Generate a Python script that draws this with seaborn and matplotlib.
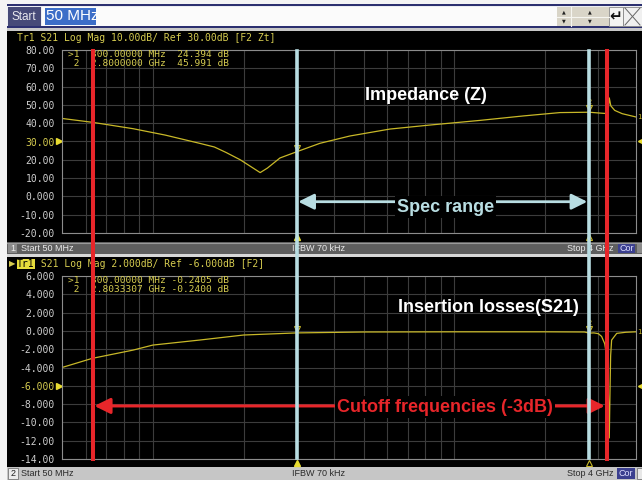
import matplotlib
matplotlib.use('Agg')
import numpy as np
import pandas as pd
import matplotlib.pyplot as plt
import seaborn as sns
from matplotlib.patches import Rectangle
from matplotlib.lines import Line2D
from matplotlib import transforms as mtrans
from matplotlib import font_manager as fm

# ---------------- data ----------------
z_freq_mhz = [50, 63, 86, 110, 143, 160, 175, 195, 215, 227, 240, 264, 300, 358, 450, 611,
              830, 1209, 1700, 2238, 2800, 3000, 3180, 3230, 3262, 3300, 3400, 3600, 4000]
z_db = [42.6, 40.5, 37.0, 33.5, 29.0, 27.0, 24.0, 20.0, 15.5, 13.0, 15.5, 21.0, 24.4, 29.0, 33.0, 36.8,
        39.0, 41.5, 44.0, 45.8, 46.0, 45.6, 45.3, 46.0, 53.8, 49.5, 47.0, 45.2, 43.4]

s21_freq_mhz = [50, 63, 86, 100, 143, 200, 300, 500, 1000, 2000, 2700, 2800, 2900, 3000,
                3076, 3150, 3198, 3240, 3262, 3280, 3296, 3321, 3453, 3700, 4000]
s21_db = [-4.0, -3.0, -2.1, -1.55, -1.0, -0.45, -0.22, -0.12, -0.1, -0.1, -0.12, -0.24, -0.22, -0.3,
          -0.6, -1.4, -2.8, -7.0, -11.7, -6.5, -2.7, -1.0, -0.27, -0.15, -0.1]

spec_range_mhz = [300, 2800]
cutoff_mhz = [63.4, 3200]
grid_freq_mhz = [60, 70, 80, 90, 100, 200, 300, 400, 500, 600, 700, 800, 900, 1000, 2000, 3000]

z_ticks = [80, 70, 60, 50, 40, 30, 20, 10, 0, -10, -20]
z_tick_labels = ["80.00", "70.00", "60.00", "50.00", "40.00", "30.00", "20.00", "10.00", "0.000", "-10.00", "-20.00"]
s21_ticks = [6, 4, 2, 0, -2, -4, -6, -8, -10, -12, -14]
s21_tick_labels = ["6.000", "4.000", "2.000", "0.000", "-2.000", "-4.000", "-6.000", "-8.000", "-10.00", "-12.00", "-14.00"]

marker_freq_labels = ["300.00000 MHz", "2.8000000 GHz"]
s21_marker_freq_labels = ["300.00000 MHz", "2.8033307 GHz"]
z_marker_db = [24.394, 45.991]
s21_marker_db = [-0.2405, -0.2400]
marker_freq_mhz = [300, 2800]

# ---------------- style ----------------
W, H = 642, 480
def have(name):
    try:
        fm.findfont(fm.FontProperties(family=name), fallback_to_default=False)
        return True
    except Exception:
        return False
NARROW = 'Liberation Sans Narrow' if have('Liberation Sans Narrow') else 'Liberation Sans'
isn = NARROW.endswith('Narrow')
MONO = 'DejaVu Sans Mono'
SANS = 'Liberation Sans'

YEL = '#d6cc50'
TRACE = '#c8b828'
RED = '#e8262a'
BLUE = '#b8dde2'
GRID = '#3c3c3c'

fig = plt.figure(figsize=(W / 100, H / 100), dpi=100)
fig.patch.set_facecolor('#f4f4f4')

def R(x0, y0, x1, y1, fc, ec='none', lw=0, z=-5):
    fig.add_artist(Rectangle((x0 / W, 1 - y1 / H), (x1 - x0) / W, (y1 - y0) / H,
                             transform=fig.transFigure, facecolor=fc, edgecolor=ec,
                             linewidth=lw, zorder=z))

def T(x, y, s, z=1, **kw):
    kw.setdefault('va', 'center')
    fig.text(x / W, 1 - y / H, s, zorder=z, **kw)

def L(xs, ys, color, lw=0.8, z=1):
    fig.add_artist(Line2D([x / W for x in xs], [1 - y / H for y in ys], color=color,
                          lw=lw, transform=fig.transFigure, zorder=z))

# ---- title bar ----
R(7, 4, 642, 28, '#eceef2')
R(7, 4, 642, 6, '#2c3070')
R(7, 26, 642, 28, '#2c3070')
R(7, 28, 642, 31, '#c8c8c8')
R(8, 7, 41, 26, '#464a78')
T(12, 16.5, 'Start', color='#e8e8ee', fontsize=8.5, family=SANS)
R(42, 7, 557, 26, '#fbfbfb')
R(45, 8, 96, 25, '#3c6ec8')
T(46, 16.5, '50 MHz', color='white', fontsize=12.5 if isn else 11, family=NARROW)
# spin buttons
R(557, 7, 609, 26, '#d9d5c8')
L([557, 609], [16.5, 16.5], '#f5f5f0', 0.8)
L([571, 571], [7, 26], '#f5f5f0', 0.8)
for xc in (564, 590):
    T(xc, 12, '▲', fontsize=3.5, ha='center', color='#222222', family='DejaVu Sans')
    T(xc, 21, '▼', fontsize=3.5, ha='center', color='#222222', family='DejaVu Sans')
R(609, 7, 623, 26, '#f4f4f2', ec='#888888', lw=0.6)
T(616, 17, '↵', fontsize=11, ha='center', color='#111111', family='DejaVu Sans', weight='bold')
R(623, 7, 642, 26, '#f0f0f0', ec='#888888', lw=0.6)
L([625, 640], [8, 25], '#666666', 0.7)
L([625, 640], [25, 8], '#666666', 0.7)

# ---- channel panels ----
R(7, 31, 642, 242, 'black')
R(7, 242, 642, 254, '#5e5e5e')
L([7, 642], [242.5, 242.5], '#9a9a9a', 0.8, z=-4)
R(7, 254, 642, 257, '#d8d8d8')
R(7, 257, 642, 467, 'black')
R(7, 467, 642, 480, '#c6c6c6')

# status bar 1
R(8, 243, 17, 253.5, '#8a8a8a')
T(10, 248.5, '1', color='#f0f0f0', fontsize=6.5, family=SANS)
T(21, 248.5, 'Start 50 MHz', color='#eaeaea', fontsize=6.5, family=SANS)
T(292, 248.5, 'IFBW 70 kHz', color='#eaeaea', fontsize=6.5, family=SANS)
T(567, 248.5, 'Stop 4 GHz', color='#eaeaea', fontsize=6.5, family=SANS)
R(618, 243, 635, 253.5, '#3b3f8f')
T(626.5, 248.5, 'Cor', color='#e0e0ff', fontsize=6.5, family=SANS, ha='center')
R(637, 243, 642, 253.5, '#8a8a8a')
# status bar 2
R(8, 468, 18, 479, '#ececec', ec='#777777', lw=0.6)
T(10.5, 473.5, '2', color='#202020', fontsize=6.5, family=SANS)
T(21, 473.5, 'Start 50 MHz', color='#2a2a2a', fontsize=6.5, family=SANS)
T(292, 473.5, 'IFBW 70 kHz', color='#2a2a2a', fontsize=6.5, family=SANS)
T(567, 473.5, 'Stop 4 GHz', color='#2a2a2a', fontsize=6.5, family=SANS)
R(617, 468, 635, 479, '#3b3f8f')
T(626, 473.5, 'Cor', color='#e0e0ff', fontsize=6.5, family=SANS, ha='center')
R(637, 468, 642, 479, '#e8e8e8', ec='#777777', lw=0.6)

# headers
T(17, 38, 'Tr1 S21 Log Mag 10.00dB/ Ref 30.00dB [F2 Zt]', color=YEL, fontsize=7, family=MONO)
T(9, 264, '▶', color=YEL, fontsize=6, family='DejaVu Sans')
R(17, 259, 34.5, 269, '#e6dc3c', z=0)
T(17, 264, 'Tr1', color='black', fontsize=7, family=MONO)
T(34.6, 264, ' S21 Log Mag 2.000dB/ Ref -6.000dB [F2]', color=YEL, fontsize=7, family=MONO)

# ---------------- axes ----------------
ax1 = fig.add_axes([62 / W, 1 - 233 / H, 574 / W, 183 / H])
ax2 = fig.add_axes([62 / W, 1 - 459 / H, 574 / W, 183 / H])
ax1.set_zorder(3)
ax2.set_zorder(2)

df_z = pd.DataFrame({'freq': z_freq_mhz, 'db': z_db})
df_s = pd.DataFrame({'freq': s21_freq_mhz, 'db': s21_db})
sns.lineplot(data=df_z, x='freq', y='db', ax=ax1, color=TRACE, linewidth=0.9, legend=False)
sns.lineplot(data=df_s, x='freq', y='db', ax=ax2, color=TRACE, linewidth=0.9, legend=False)

for ax, ticks, labels, lim, refv in ((ax1, z_ticks, z_tick_labels, (-20, 80), 30),
                                     (ax2, s21_ticks, s21_tick_labels, (-14, 6), -6)):
    ax.set_facecolor('black')
    ax.set_xscale('log')
    ax.set_xlim(50, 4000)
    ax.set_ylim(*lim)
    ax.set_xticks(grid_freq_mhz)
    ax.xaxis.set_minor_locator(matplotlib.ticker.NullLocator())
    ax.set_xticklabels([])
    ax.set_yticks(ticks)
    ax.set_yticklabels(labels)
    ax.tick_params(axis='both', length=0)
    ax.tick_params(axis='y', pad=5.2, labelsize=7, labelcolor='#cfcfcf')
    for lab, v in zip(ax.get_yticklabels(), ticks):
        lab.set_fontfamily(MONO)
        if v == refv:
            lab.set_color(YEL)
    ax.grid(True, color=GRID, lw=0.8)
    ax.set_axisbelow(True)
    for sp in ax.spines.values():
        sp.set_color('#8c8c8c')
        sp.set_linewidth(0.8)
    ax.set_xlabel('')
    ax.set_ylabel('')
    # reference level markers
    tr = mtrans.blended_transform_factory(ax.transAxes, ax.transData)
    ax.plot([-0.006], [refv], marker='>', ms=4.5, color='#e8dc30', transform=tr, clip_on=False)
    ax.plot([1.009], [refv], marker='<', ms=4.5, color='#e8dc30', transform=tr, clip_on=False)
    # stimulus markers below axis
    trb = mtrans.blended_transform_factory(ax.transData, ax.transAxes)
    ax.plot([marker_freq_mhz[0]], [-0.022], marker='^', ms=5, color='#e8dc30', transform=trb, clip_on=False)
    ax.plot([marker_freq_mhz[1]], [-0.022], marker='^', ms=5, mfc='none', mec='#c8b828', mew=0.8,
            transform=trb, clip_on=False)

# marker glyphs on traces
for ax, vals in ((ax1, z_marker_db), (ax2, s21_marker_db)):
    for i, (f, v) in enumerate(zip(marker_freq_mhz, vals)):
        ax.plot([f], [v], marker='v', ms=4, mfc='none', mec=TRACE, mew=0.8,
                transform=ax.transData + mtrans.ScaledTranslation(0, 4 / 100, fig.dpi_scale_trans))
        ax.text(f, v, str(i + 1), color=TRACE, fontsize=5, family=MONO, ha='center', va='bottom',
                transform=ax.transData + mtrans.ScaledTranslation(0, 7 / 100, fig.dpi_scale_trans))

# marker readouts
for ax, flabs, vals in ((ax1, marker_freq_labels, z_marker_db), (ax2, s21_marker_freq_labels, s21_marker_db)):
    if ax is ax1:
        vs = [('%.3f' % v).rjust(7) for v in vals]
    else:
        vs = ['%.4f' % v for v in vals]
    lines = ['>1  %s %s dB' % (flabs[0], vs[0]),
             ' 2  %s %s dB' % (flabs[1], vs[1])]
    for k, s in enumerate(lines):
        ax.text(6 / 574, 1 - (4.5 + 9.0 * k) / 183, s, transform=ax.transAxes, color=YEL, fontsize=6.8,
                family=MONO, va='center', ha='left')

ax1.text(1.002, 43.4, '1', transform=mtrans.blended_transform_factory(ax1.transAxes, ax1.transData),
         color=TRACE, fontsize=5, family=MONO, va='center', clip_on=False)
ax2.text(1.002, -0.1, '1', transform=mtrans.blended_transform_factory(ax2.transAxes, ax2.transData),
         color=TRACE, fontsize=5, family=MONO, va='center', clip_on=False)

# spec range and cutoff vertical lines (span both panels)
for f in spec_range_mhz:
    ax1.axvline(f, ymin=(233 - 458) / 183, ymax=(233 - 51) / 183, color=BLUE, lw=2.6, clip_on=False, zorder=5)
for f in cutoff_mhz:
    ax1.axvline(f, ymin=(233 - 459) / 183, ymax=(233 - 51) / 183, color=RED, lw=2.9, clip_on=False, zorder=6)

# arrows
ax1.annotate('', xy=(spec_range_mhz[1] * 0.985, -2.9), xytext=(spec_range_mhz[0] * 1.012, -2.9),
             arrowprops=dict(arrowstyle='<|-|>,head_length=0.95,head_width=0.47', color=BLUE, lw=2,
                             shrinkA=0, shrinkB=0, mutation_scale=10), zorder=4)
ax2.annotate('', xy=(cutoff_mhz[1] * 0.985, -8.2), xytext=(cutoff_mhz[0] * 1.01, -8.2),
             arrowprops=dict(arrowstyle='<|-|>,head_length=0.95,head_width=0.47', color=RED, lw=2.2,
                             shrinkA=0, shrinkB=0, mutation_scale=10), zorder=4)

big = 14 if isn else 13
T(426, 96, 'Impedance (Z)', z=8, color='white', fontsize=big, family=NARROW, weight='bold', ha='center')
T(445.5, 207, 'Spec range', z=8, color=BLUE, fontsize=big, family=NARROW, weight='bold', ha='center',
  bbox=dict(fc='black', ec='none', pad=1.5))
T(488.5, 308, 'Insertion losses(S21)', z=8, color='white', fontsize=big, family=NARROW, weight='bold', ha='center')
T(445, 407, 'Cutoff frequencies (-3dB)', z=8, color=RED, fontsize=big, family=NARROW, weight='bold', ha='center',
  bbox=dict(fc='black', ec='none', pad=1.5))

fig.savefig('out.png', dpi=100, facecolor=fig.get_facecolor())
